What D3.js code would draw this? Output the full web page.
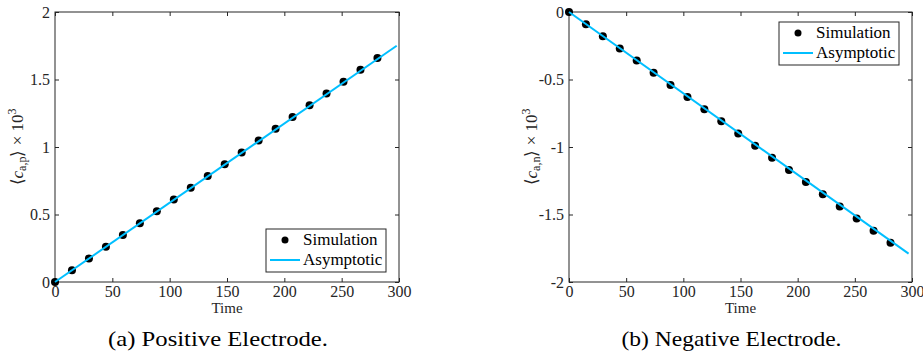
<!DOCTYPE html>
<html>
<head>
<meta charset="utf-8">
<script src="https://cdn.jsdelivr.net/npm/d3@7"></script>
<style>
  body { margin: 0; background: #fff; }
  .axis line, .axis path { stroke: #262626; }
  .tick text { fill: #262626; font-size: 16px; }
</style>
</head>
<body>
<div id="canvas"></div>
<script>
// simulation sample times (same for both electrodes)
var simTime = [0, 14.8, 29.6, 44.4, 59.2, 74, 88.8, 103.6, 118.4, 133.2,
               148, 162.8, 177.6, 192.4, 207.2, 222, 236.8, 251.6, 266.4, 281.2];
// positive electrode <c_a,p> x 10^3
var simPos = [0, 0.087, 0.175, 0.262, 0.349, 0.436, 0.524, 0.611, 0.699, 0.786,
              0.873, 0.960, 1.048, 1.135, 1.222, 1.310, 1.397, 1.484, 1.572, 1.659];
// negative electrode <c_a,n> x 10^3
var simNeg = [0, -0.090, -0.180, -0.270, -0.360, -0.450, -0.540, -0.630, -0.720, -0.810,
              -0.900, -0.990, -1.080, -1.170, -1.260, -1.350, -1.440, -1.530, -1.620, -1.710];
// asymptotic lines
var asyTimePos = [0, 298];
var asyPos = [0, 1.75];
var asyTimeNeg = [0, 297];
var asyNeg = [0, -1.79];

var xTicks = [0, 50, 100, 150, 200, 250, 300];
var yTicksPos = [0, 0.5, 1, 1.5, 2];
var yTicksNeg = [0, -0.5, -1, -1.5, -2];

var captions = ["(a) Positive Electrode.", "(b) Negative Electrode."];

var W = 923, H = 358;
var svg = d3.select("#canvas").append("svg")
  .attr("width", W).attr("height", H);

var lineColor = "#00bfff";

var panels = [
  {left: 55, right: 399, top: 12, bottom: 282, t: simTime, v: simPos, at: asyTimePos, av: asyPos,
   ydom: [0, 2], yticks: yTicksPos, sub: "a,p", legend: "bottom", caption: captions[0]},
  {left: 569, right: 912, top: 12, bottom: 282, t: simTime, v: simNeg, at: asyTimeNeg, av: asyNeg,
   ydom: [-2, 0], yticks: yTicksNeg, sub: "a,n", legend: "top", caption: captions[1]}
];

panels.forEach(function(p) {
  var x = d3.scaleLinear().domain([0, 300]).range([p.left, p.right]);
  var y = d3.scaleLinear().domain(p.ydom).range([p.bottom, p.top]);
  var fmt = function(d) { return String(d).replace("\u2212", "-"); };

  var g = svg.append("g");

  // box
  g.append("rect")
    .attr("x", p.left).attr("y", p.top)
    .attr("width", p.right - p.left).attr("height", p.bottom - p.top)
    .attr("fill", "none").attr("stroke", "#262626").attr("stroke-width", 1);

  // axes (ticks inward)
  g.append("g").attr("class", "axis")
    .attr("transform", "translate(0," + p.bottom + ")")
    .call(d3.axisBottom(x).tickValues(xTicks).tickSizeInner(-4).tickSizeOuter(0).tickPadding(4).tickFormat(fmt))
    .call(function(s) { s.select(".domain").remove(); });
  g.append("g").attr("class", "axis")
    .attr("transform", "translate(0," + p.top + ")")
    .call(d3.axisTop(x).tickValues(xTicks).tickSizeInner(-4).tickSizeOuter(0).tickFormat(""))
    .call(function(s) { s.select(".domain").remove(); });
  g.append("g").attr("class", "axis")
    .attr("transform", "translate(" + p.left + ",0)")
    .call(d3.axisLeft(y).tickValues(p.yticks).tickSizeInner(-4).tickSizeOuter(0).tickPadding(5).tickFormat(fmt))
    .call(function(s) { s.select(".domain").remove(); });
  g.append("g").attr("class", "axis")
    .attr("transform", "translate(" + p.right + ",0)")
    .call(d3.axisRight(y).tickValues(p.yticks).tickSizeInner(-4).tickSizeOuter(0).tickFormat(""))
    .call(function(s) { s.select(".domain").remove(); });

  var line = d3.line().x(function(d) { return x(d[0]); }).y(function(d) { return y(d[1]); });

  // simulation dots
  g.selectAll("circle.sim")
    .data(d3.zip(p.t, p.v))
    .enter().append("circle")
      .attr("class", "sim")
      .attr("cx", function(d) { return x(d[0]); })
      .attr("cy", function(d) { return y(d[1]); })
      .attr("r", 4)
      .attr("fill", "#000");
  // asymptotic line drawn over the dots
  g.append("path")
    .datum(d3.zip(p.at, p.av))
    .attr("d", line)
    .attr("fill", "none").attr("stroke", lineColor).attr("stroke-width", 2);

  // x label
  g.append("text")
    .attr("x", (p.left + p.right) / 2).attr("y", p.bottom + 31)
    .attr("text-anchor", "middle").attr("font-size", 15).attr("fill", "#262626")
    .text("Time");

  // y label
  var yl = g.append("text")
    .attr("transform", "translate(" + (p.left - 32) + "," + ((p.top + p.bottom) / 2) + ") rotate(-90)")
    .attr("text-anchor", "middle").attr("font-size", 17).attr("fill", "#262626");
  yl.append("tspan").text("\u27e8");
  yl.append("tspan").attr("font-style", "italic").text("c");
  yl.append("tspan").attr("font-size", 12).attr("dy", 3).text(p.sub);
  yl.append("tspan").attr("dy", -3).text("\u27e9 \u00d7 10");
  yl.append("tspan").attr("font-size", 12).attr("dy", -7).text("3");

  // legend
  var lw = 120, lh = 43;
  var lx = p.right - 13 - lw;
  var ly = p.legend === "bottom" ? p.bottom - 10 - lh : p.top + 10;
  var lg = g.append("g").attr("transform", "translate(" + lx + "," + ly + ")");
  lg.append("rect").attr("width", lw).attr("height", lh)
    .attr("fill", "#fff").attr("stroke", "#262626").attr("stroke-width", 1);
  lg.append("circle").attr("cx", 19).attr("cy", 11).attr("r", 3.5).attr("fill", "#000");
  lg.append("line").attr("x1", 4).attr("x2", 34).attr("y1", 31).attr("y2", 31)
    .attr("stroke", lineColor).attr("stroke-width", 2);
  lg.append("text").attr("x", 37).attr("y", 16).attr("font-size", 17).attr("fill", "#000").text("Simulation");
  lg.append("text").attr("x", 37).attr("y", 36).attr("font-size", 17).attr("fill", "#000").text("Asymptotic");

  // caption
  g.append("text")
    .attr("x", (p.left + p.right) / 2 - 9).attr("y", 346)
    .attr("text-anchor", "middle").attr("font-size", 22).attr("fill", "#000")
    .attr("textLength", 220).attr("lengthAdjust", "spacingAndGlyphs")
    .text(p.caption);
});

// serif face for every label (the axis groups set their own sans-serif)
svg.selectAll("text").style("font-family", "'Liberation Serif'");
</script>
</body>
</html>
